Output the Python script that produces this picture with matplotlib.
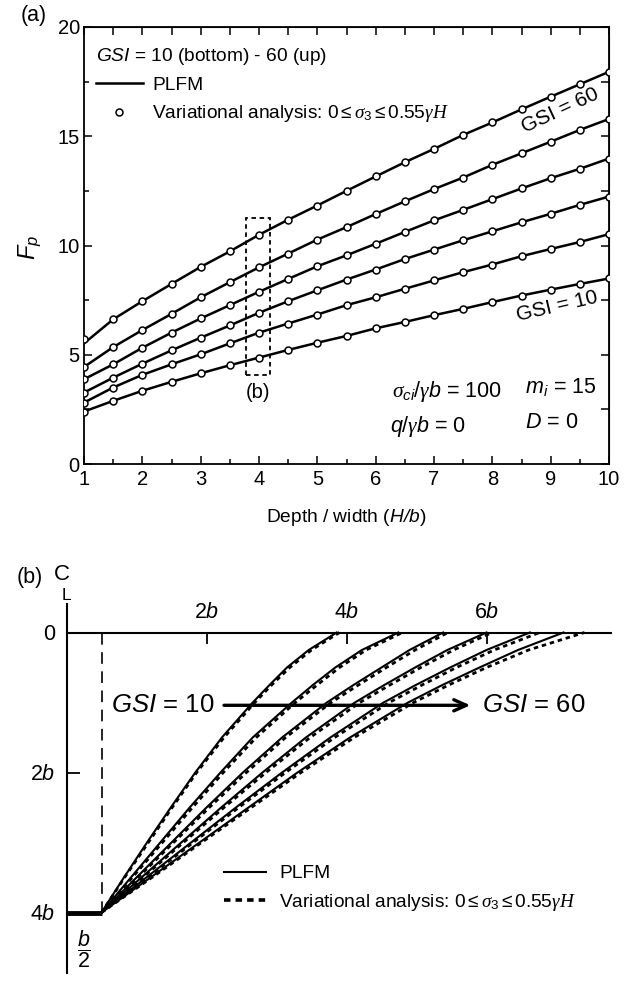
import numpy as np
import matplotlib
matplotlib.use("Agg")
import matplotlib.pyplot as plt
from matplotlib import font_manager as fm
from matplotlib.lines import Line2D
from matplotlib.patches import Rectangle

# ---------------- data: panel (a) ----------------
hb = [1, 1.5, 2, 2.5, 3, 3.5, 4, 4.5, 5, 5.5, 6, 6.5, 7, 7.5, 8, 8.5, 9, 9.5, 10]
va_gsi10 = [2.40, 2.89, 3.35, 3.76, 4.15, 4.52, 4.87, 5.22, 5.55, 5.86, 6.21, 6.50, 6.81, 7.10, 7.41, 7.71, 7.98, 8.24, 8.49]
va_gsi20 = [2.81, 3.50, 4.08, 4.56, 5.02, 5.52, 6.01, 6.43, 6.84, 7.27, 7.63, 8.02, 8.40, 8.78, 9.13, 9.51, 9.84, 10.16, 10.52]
va_gsi30 = [3.27, 3.95, 4.59, 5.20, 5.78, 6.34, 6.92, 7.45, 7.95, 8.44, 8.90, 9.38, 9.81, 10.24, 10.65, 11.06, 11.45, 11.86, 12.24]
va_gsi40 = [3.88, 4.56, 5.32, 6.01, 6.66, 7.27, 7.88, 8.47, 9.05, 9.55, 10.08, 10.62, 11.15, 11.63, 12.12, 12.61, 13.08, 13.51, 13.98]
va_gsi50 = [4.44, 5.35, 6.13, 6.87, 7.63, 8.32, 9.00, 9.63, 10.27, 10.84, 11.44, 12.02, 12.58, 13.11, 13.69, 14.22, 14.75, 15.29, 15.79]
va_gsi60 = [5.70, 6.62, 7.45, 8.24, 9.02, 9.73, 10.49, 11.18, 11.83, 12.50, 13.16, 13.81, 14.42, 15.06, 15.63, 16.23, 16.81, 17.38, 17.95]
plfm_gsi10 = va_gsi10
plfm_gsi20 = va_gsi20
plfm_gsi30 = va_gsi30
plfm_gsi40 = va_gsi40
plfm_gsi50 = va_gsi50
plfm_gsi60 = [5.52] + va_gsi60[1:]
va_series = [va_gsi10, va_gsi20, va_gsi30, va_gsi40, va_gsi50, va_gsi60]
plfm_series = [plfm_gsi10, plfm_gsi20, plfm_gsi30, plfm_gsi40, plfm_gsi50, plfm_gsi60]
box_b = (3.77, 4.19, 4.08, 11.25)   # x0, x1, y0, y1 of the dashed box "(b)"

# ---------------- data: panel (b) ----------------
depth = [4.0, 3.5, 3.0, 2.5, 2.0, 1.5, 1.0, 0.75, 0.5, 0.25, 0.0]
plfm_x = [
    [0.5, 0.82, 1.15, 1.49, 1.84, 2.22, 2.66, 2.90, 3.15, 3.46, 3.86],
    [0.5, 0.92, 1.34, 1.76, 2.20, 2.66, 3.22, 3.52, 3.84, 4.22, 4.74],
    [0.5, 1.00, 1.50, 2.00, 2.52, 3.08, 3.72, 4.10, 4.50, 4.90, 5.38],
    [0.5, 1.07, 1.64, 2.21, 2.80, 3.42, 4.12, 4.54, 4.98, 5.44, 6.00],
    [0.5, 1.14, 1.78, 2.42, 3.08, 3.77, 4.53, 4.99, 5.48, 6.00, 6.62],
    [0.5, 1.20, 1.90, 2.60, 3.30, 4.05, 4.88, 5.37, 5.90, 6.45, 7.10],
]
va_x = [
    [0.5, 0.83, 1.17, 1.51, 1.86, 2.25, 2.69, 2.93, 3.19, 3.50, 3.90],
    [0.5, 0.94, 1.37, 1.80, 2.24, 2.71, 3.27, 3.58, 3.90, 4.28, 4.80],
    [0.5, 1.02, 1.53, 2.04, 2.57, 3.13, 3.78, 4.17, 4.57, 4.98, 5.45],
    [0.5, 1.09, 1.67, 2.25, 2.85, 3.48, 4.19, 4.62, 5.06, 5.53, 6.08],
    [0.5, 1.16, 1.81, 2.46, 3.13, 3.83, 4.61, 5.08, 5.57, 6.11, 6.76],
    [0.5, 1.22, 1.93, 2.64, 3.35, 4.11, 4.96, 5.46, 6.00, 6.60, 7.40],
]
tunnel_half_width = 0.5
tunnel_depth = 4.0
surface_extent = 7.78
axis_top, axis_bottom = -0.41, 4.86
arrow_depth = 1.04
arrow_from, arrow_to = 2.25, 5.77

# ---------------- fonts ----------------
def has_font(name):
    try:
        fm.findfont(fm.FontProperties(family=name), fallback_to_default=False)
        return True
    except Exception:
        return False

narrow = has_font('Liberation Sans Narrow')
SANS = 'Liberation Sans Narrow' if narrow else 'Liberation Sans'
k = 1.15 if narrow else 1.0

plt.rcParams['font.family'] = [SANS, 'DejaVu Sans']
plt.rcParams['mathtext.fontset'] = 'custom'
plt.rcParams['mathtext.rm'] = SANS
plt.rcParams['mathtext.sf'] = SANS + ':italic'
plt.rcParams['mathtext.it'] = 'Liberation Serif:italic'
plt.rcParams['mathtext.bf'] = SANS + ':bold'

FS_TICK = 14 * k
FS_LEG = 13.8 * k
FS_TXT = 14.5 * k
va_label = r'Variational analysis: $0\leq\sigma_3\leq0.55\gamma H$'

fig = plt.figure(figsize=(6.34, 9.81), dpi=100)

# ================= panel (a) =================
axA = fig.add_axes([84 / 634, 1 - 464 / 981, (609 - 84) / 634, (464 - 27) / 981])
for yv in plfm_series:
    axA.plot(hb, yv, color='k', lw=1.8, zorder=2)
for yv in va_series:
    axA.plot(hb, yv, ls='none', marker='o', ms=5, mfc='white', mec='k', mew=1.1, zorder=3)

axA.set_xlim(1, 10)
axA.set_ylim(0, 20)
axA.set_xticks(np.arange(1, 11, 1))
axA.set_xticks(np.arange(1, 10.01, 0.5), minor=True)
axA.set_yticks(np.arange(0, 21, 5))
axA.set_yticks(np.arange(0, 20.01, 2.5), minor=True)
axA.tick_params(which='both', direction='in', top=False, right=False,
                labelsize=FS_TICK + 0.5, width=1.1)
axA.tick_params(which='major', length=6)
axA.tick_params(which='minor', length=3.5)
axA.tick_params(axis='x', pad=4)
axA.tick_params(axis='y', pad=3)
for s in axA.spines.values():
    s.set_linewidth(1.3)

secx = axA.secondary_xaxis('top')
tx = np.arange(1, 10.01, 0.5)
secx.set_xticks(tx, labels=[''] * len(tx))
secx.tick_params(direction='in', length=5.5, width=1.1)
secy = axA.secondary_yaxis('right')
ty = np.arange(0, 20.01, 2.5)
secy.set_yticks(ty, labels=[''] * len(ty))
secy.tick_params(direction='in', length=5.5, width=1.1)

x0, x1, y0, y1 = box_b
axA.add_patch(Rectangle((x0, y0), x1 - x0, y1 - y0, fill=False, ec='k',
                        lw=1.3, ls=(0, (2.5, 2))))
axA.text((x0 + x1) / 2, 3.25, '(b)', ha='center', va='center', fontsize=FS_TXT)

handles = [Line2D([], [], color='k', lw=1.8),
           Line2D([], [], ls='none', marker='o', ms=5, mfc='white', mec='k', mew=1.1)]
legA = axA.legend(handles, ['PLFM', va_label], loc='upper left',
                  bbox_to_anchor=(0.022, 0.957), frameon=False, fontsize=FS_LEG,
                  title=r'$\mathsf{GSI}$ = 10 (bottom) - 60 (up)',
                  title_fontsize=FS_LEG, alignment='left', borderpad=0,
                  borderaxespad=0, handlelength=2.45, handletextpad=0.5,
                  labelspacing=0.5, numpoints=1)

axA.text(9.16, 16.2, 'GSI = 60', rotation=25, ha='center', va='center',
         fontsize=FS_TXT + 0.5, rotation_mode='anchor')
axA.text(9.11, 7.2, 'GSI = 10', rotation=13, ha='center', va='center',
         fontsize=FS_TXT + 0.5, rotation_mode='anchor')
axA.text(6.28, 3.3, r'$\sigma_{\mathsf{ci}}/\gamma\mathsf{b}$ = 100', ha='left',
         va='center', fontsize=FS_TXT + 1)
axA.text(6.25, 1.7, r'$\mathsf{q}/\gamma\mathsf{b}$ = 0', ha='left', va='center',
         fontsize=FS_TXT + 1)
axA.text(8.56, 3.48, r'$\mathsf{m_i}$ = 15', ha='left', va='center', fontsize=FS_TXT + 1)
axA.text(8.56, 1.92, r'$\mathsf{D}$ = 0', ha='left', va='center', fontsize=FS_TXT + 1)

fig.text(34 / 634, 1 - 15 / 981, '(a)', ha='center', va='center', fontsize=FS_TXT + 1)
fig.text(30 / 634, 1 - 247 / 981, r'$\mathsf{F_p}$', rotation=90, ha='center',
         va='center', fontsize=FS_TICK + 3)
fig.text(346 / 634, 1 - 518 / 981, r'Depth / width ($\mathsf{H/b}$)', ha='center',
         va='center', fontsize=FS_LEG)

# ================= panel (b) =================
ox, oy, sc = 66.5, 632.5, 70.0
axB = fig.add_axes([0, 0, 1, 421 / 981])
axB.set_xlim((0 - ox) / sc, (634 - ox) / sc)
axB.set_ylim((981 - oy) / sc, (560 - oy) / sc)
axB.patch.set_visible(False)

for xs in plfm_x:
    axB.plot(xs, depth, color='k', lw=1.5, zorder=3)
for xs in va_x:
    axB.plot(xs, depth, color='k', lw=2.0, ls=(0, (1.6, 1.4)), zorder=2)

axB.plot([0, tunnel_half_width], [tunnel_depth, tunnel_depth], color='k', lw=3.5,
         solid_capstyle='butt', zorder=4)
axB.plot([tunnel_half_width, tunnel_half_width], [0, tunnel_depth], color='k',
         lw=1.2, ls=(0, (7, 4.5)))

for side in ['right', 'bottom']:
    axB.spines[side].set_visible(False)
axB.spines['left'].set_position(('data', 0))
axB.spines['left'].set_bounds(axis_top, axis_bottom)
axB.spines['top'].set_position(('data', 0))
axB.spines['top'].set_bounds(0, surface_extent)
axB.spines['left'].set_linewidth(1.5)
axB.spines['top'].set_linewidth(1.5)

axB.xaxis.set_ticks_position('top')
axB.xaxis.set_label_position('top')
axB.set_xticks([2, 4, 6], labels=[r'2$\mathsf{b}$', r'4$\mathsf{b}$', r'6$\mathsf{b}$'])
axB.set_yticks([0, 2, 4], labels=['0', r'2$\mathsf{b}$', r'4$\mathsf{b}$'])
axB.tick_params(axis='x', direction='in', length=8, width=1.3, pad=7,
                labelsize=FS_TICK + 1.5)
axB.tick_params(axis='y', direction='in', length=9, width=1.3, pad=8,
                labelsize=FS_TICK + 1.5)

axB.annotate('', xy=(arrow_to, arrow_depth), xytext=(arrow_from, arrow_depth),
             arrowprops=dict(arrowstyle='->,head_length=0.9,head_width=0.4',
                             lw=2.4, color='k', shrinkA=0, shrinkB=0))
axB.text(0.64, arrow_depth, r'$\mathsf{GSI}$ = 10', ha='left', va='center',
         fontsize=FS_TICK + 4.5)
axB.text(5.94, arrow_depth, r'$\mathsf{GSI}$ = 60', ha='left', va='center',
         fontsize=FS_TICK + 4.5)

axB.text(0.25, 4.52, r'$\dfrac{\mathsf{b}}{2}$', ha='center', va='center',
         fontsize=FS_TICK + 1.5)
axB.text(-0.52, -0.78, '(b)', ha='center', va='center', fontsize=FS_TXT + 1)
# centre-line symbol: C with an L beneath it
axB.text(-0.07, -0.83, 'C', ha='center', va='center', fontsize=FS_TICK + 2)
axB.text(0.0, -0.53, 'L', ha='center', va='center', fontsize=FS_TICK - 1.5)

handlesB = [Line2D([], [], color='k', lw=1.5),
            Line2D([], [], color='k', lw=2.6, ls=(0, (1.8, 1.4)))]
axB.legend(handlesB, ['PLFM', va_label], loc='upper left',
           bbox_to_anchor=(0.353, 0.276), frameon=False, fontsize=FS_LEG,
           borderpad=0, borderaxespad=0, handlelength=2.2, handletextpad=0.7,
           labelspacing=0.5)

fig.savefig('out.png', dpi=100)
